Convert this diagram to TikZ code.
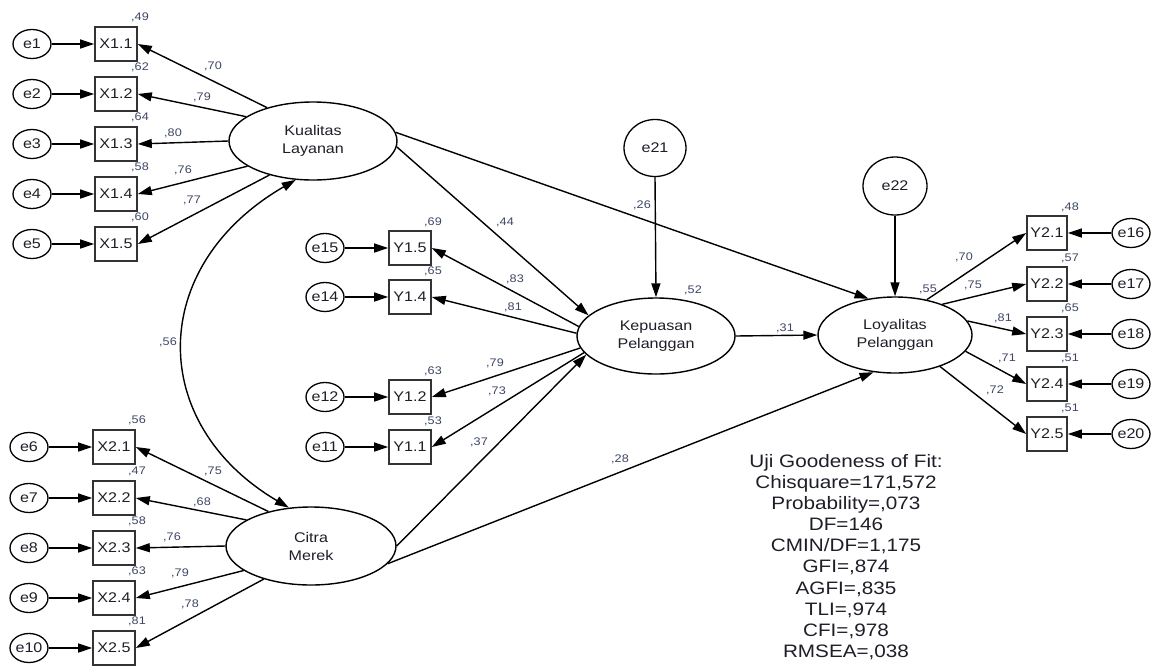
\documentclass[tikz,border=0pt]{standalone}
\usepackage{fontspec}
\setmainfont{Liberation Sans}[FakeStretch=1.15]
\usetikzlibrary{arrows.meta,shapes.geometric}
\definecolor{lab}{RGB}{60,70,100}
\definecolor{txt}{RGB}{30,30,40}
\begin{document}
\begin{tikzpicture}[x=1pt,y=-1pt,
  obs/.style={draw=black!80, line width=1.6pt, rectangle, minimum width=42pt, minimum height=34pt, inner sep=0pt, font=\fontsize{14}{16}\selectfont, text=txt},
  err/.style={draw, ellipse, line width=1.3pt, minimum width=38pt, minimum height=29pt, inner sep=0pt, font=\fontsize{14}{16}\selectfont, text=txt},
  lat/.style={draw, ellipse, line width=1.4pt, inner sep=0pt, align=center, font=\fontsize{14}{18}\selectfont, text=txt},
  arr/.style={line width=1.4pt, -{Triangle[length=14pt,width=9pt]}},
  barr/.style={line width=1.4pt, {Triangle[length=14pt,width=9pt]}-{Triangle[length=14pt,width=9pt]}},
  lbl/.style={font=\fontsize{11}{12}\selectfont, text=lab, inner sep=0pt}]
\useasboundingbox (0,0) rectangle (1153,670);

% latent variables
\node[lat, minimum width=168pt, minimum height=78pt] (kl) at (313,141) {Kualitas\\Layanan};
\node[lat, minimum width=170pt, minimum height=78pt] (cm) at (311,546) {Citra\\Merek};
\node[lat, minimum width=158pt, minimum height=76pt] (kp) at (656,336) {Kepuasan\\Pelanggan};
\node[lat, minimum width=154pt, minimum height=76pt] (lo) at (895,335) {Loyalitas\\Pelanggan};
\node[err, minimum width=62pt, minimum height=57pt] (e21) at (655,148) {e21};
\node[err, minimum width=64pt, minimum height=58pt] (e22) at (895,186) {e22};

% X1 indicators
\foreach \i/\y/\r/\l/\lx/\ly/\a in {1/44/49/70/213/66/144, 2/94/62/79/202/97/160, 3/144/64/80/173/133/180, 4/194/58/76/183/170/201, 5/244/60/77/192/200/218} {
  \node[err] (e\i) at (32,\y) {e\i};
  \node[obs] (xa\i) at (116,\y) {X1.\i};
  \node[lbl] (rxa\i) at (140,\y-27) {,\r};
  \draw[arr] (e\i.east) -- (xa\i.west);
  \draw[arr] (kl.\a) -- (xa\i.east);
  \node[lbl] (lxa\i) at (\lx,\ly) {,\l};
}

% X2 indicators
\foreach \i/\e/\y/\r/\l/\lx/\ly/\a in {1/6/447/56/75/213/471/141, 2/7/498/47/68/202/502/158, 3/8/548/58/76/172/537/180, 4/9/598/63/79/180/573/200, 5/10/648/81/78/190/604/215} {
  \node[err] (e\e) at (29,\y) {e\e};
  \node[obs] (xb\i) at (114,\y) {X2.\i};
  \node[lbl] (rxb\i) at (137,\y-27) {,\r};
  \draw[arr] (e\e.east) -- (xb\i.west);
  \draw[arr] (cm.\a) -- (xb\i.east);
  \node[lbl] (lxb\i) at (\lx,\ly) {,\l};
}

% Y1 indicators
\foreach \i/\e/\y/\r/\l/\lx/\ly/\a in {5/15/248/69/83/515/279/173, 4/14/297/65/81/513/307/178, 2/12/397/63/79/495/363/189, 1/11/447/53/73/497/391/193} {
  \node[err] (e\e) at (325,\y) {e\e};
  \node[obs] (ya\i) at (410,\y) {Y1.\i};
  \node[lbl] (rya\i) at (433,\y-26) {,\r};
  \draw[arr] (e\e.east) -- (ya\i.west);
  \draw[arr] (kp.\a) -- (ya\i.east);
  \node[lbl] (lya\i) at (\lx,\ly) {,\l};
}

% Y2 indicators
\foreach \i/\e/\y/\r/\l/\lx/\ly/\a in {1/16/233/48/70/964/257/48, 2/17/284/57/75/973/285/33, 3/18/334/65/81/1003/318/11, 4/19/384/51/71/1007/358/-13, 5/20/434/51/72/995/390/-35} {
  \node[err, minimum width=35pt] (e\e) at (1131,\y) {e\e};
  \node[obs, minimum width=40pt] (yb\i) at (1047,\y) {Y2.\i};
  \node[lbl] (ryb\i) at (1070,\y-26) {,\r};
  \draw[arr] (e\e.west) -- (yb\i.east);
  \draw[arr] (lo.\a) -- (yb\i.west);
  \node[lbl] (lyb\i) at (\lx,\ly) {,\l};
}

% structural paths
\draw[arr] (kl.-4) -- (kp.163);
\draw[arr] (kl.6) -- (lo.126);
\draw[arr] (cm.east) -- (kp.195);
\draw[arr] (cm.-13) -- (lo.240);
\draw[arr] (kp.east) -- (lo.west);
\draw[arr] (e21.south) -- (kp.north);
\draw[arr] (e22.south) -- (lo.north);
\draw[barr] (kl.246) .. controls (147,266) and (147,424) .. (cm.120);

\node[lbl] (c56) at (168,342) {,56};
\node[lbl] (p44) at (505,222) {,44};
\node[lbl] (p26) at (642,205) {,26};
\node[lbl] (p52) at (693,290) {,52};
\node[lbl] (p37) at (479,442) {,37};
\node[lbl] (p28) at (620,459) {,28};
\node[lbl] (p31) at (785,328) {,31};
\node[lbl] (p55) at (928,289) {,55};

\node[font=\fontsize{18}{21.1}\selectfont, align=center, text=txt, inner sep=0pt] (gof) at (846,557)
  {Uji Goodeness of Fit:\\Chisquare=171,572\\Probability=,073\\DF=146\\CMIN/DF=1,175\\GFI=,874\\AGFI=,835\\TLI=,974\\CFI=,978\\RMSEA=,038};
\end{tikzpicture}
\end{document}
